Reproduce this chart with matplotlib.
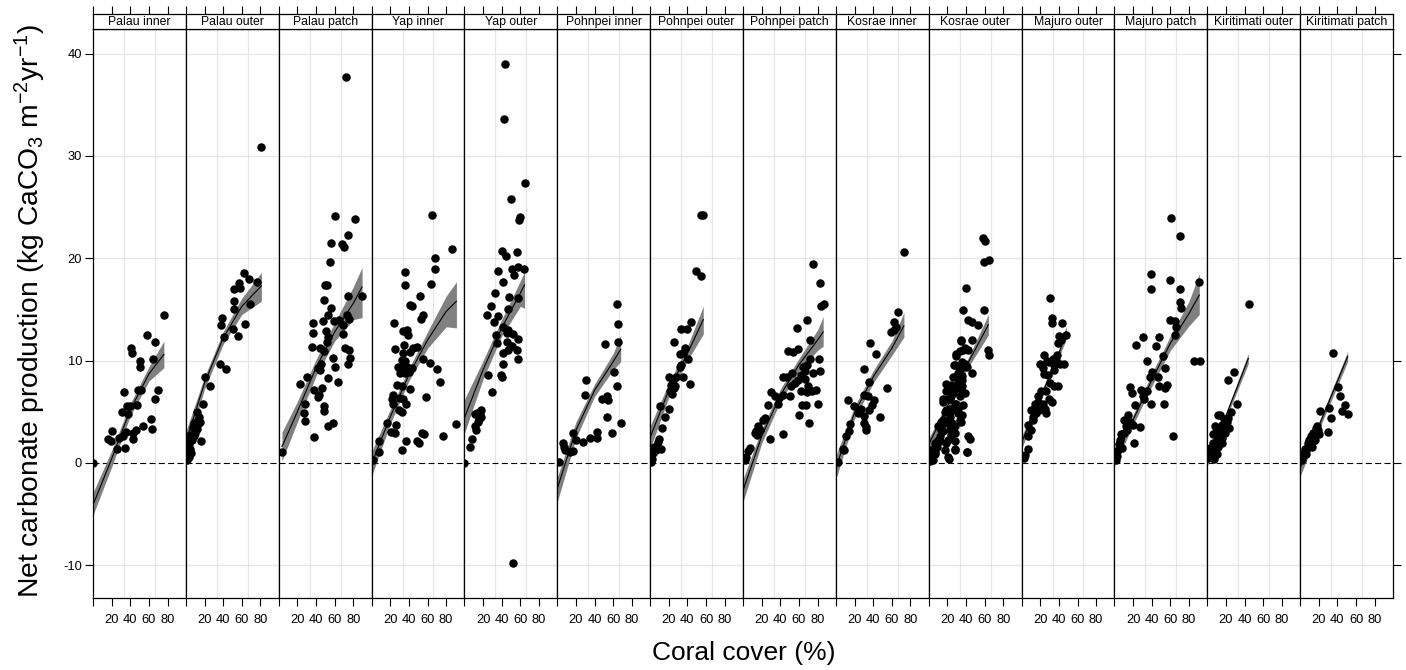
import matplotlib
matplotlib.use("Agg")
import matplotlib.pyplot as plt

plt.rcParams['font.family'] = ['Liberation Sans', 'DejaVu Sans']
plt.rcParams['mathtext.fontset'] = 'custom'
plt.rcParams['mathtext.rm'] = 'Liberation Sans'
plt.rcParams['mathtext.it'] = 'Liberation Sans:italic'
plt.rcParams['axes.unicode_minus'] = False

# panel labels (strip text)
panel_names = ["Palau inner", "Palau outer", "Palau patch", "Yap inner", "Yap outer",
               "Pohnpei inner", "Pohnpei outer", "Pohnpei patch", "Kosrae inner",
               "Kosrae outer", "Majuro outer", "Majuro patch", "Kiritimati outer",
               "Kiritimati patch"]

x_ticks = [0, 20, 40, 60, 80]
x_tick_labels = ["", "20", "40", "60", "80"]
y_ticks = [-10, 0, 10, 20, 30, 40]

# ---- observations: coral cover (%) and net carbonate production ----
palau_inner_x = [0, 75.7, 57.8, 66.8, 40.6, 42.0, 50.6, 50.6, 63.9, 48.1, 51.3, 33.4, 36.3, 39.8,
                 47.0, 30.9, 37.7, 70.0, 66.8, 61.7, 62.8, 53.5, 45.9, 43.4, 42.4, 35.2, 32.0,
                 28.4, 20.8, 16.5, 19.0, 25.5, 34.5]
palau_inner_y = [0, 14.5, 12.5, 11.8, 11.2, 10.7, 10.0, 9.4, 10.2, 7.1, 7.1, 6.9, 5.6, 5.6,
                 5.7, 5.0, 4.8, 7.1, 6.2, 4.3, 3.3, 3.6, 3.2, 2.9, 2.3, 3.0, 2.6,
                 2.4, 3.1, 2.3, 2.1, 1.4, 1.5]

palau_outer_x = [62.8, 57.4, 68.2, 76.1, 52.0, 58.1, 51.7, 51.3, 39.1, 37.3, 50.3, 41.3, 56.4,
                 63.2, 68.9, 36.6, 42.7, 20.8, 25.8, 17.9, 12.2, 13.6, 10.8, 15.1, 7.9, 11.5,
                 16.5, 4.3, 6.1, 2.9, 4.3, 1.4, 2.9, 0.7, 8.6, 10.0, 80.9, 5.0, 3.5, 9.0, 12.5, 1.5]
palau_outer_y = [18.6, 17.6, 18.0, 17.7, 17.0, 17.1, 15.8, 15.0, 14.2, 13.5, 13.1, 12.3, 12.4,
                 13.6, 15.5, 9.7, 9.2, 8.4, 7.5, 5.8, 5.0, 4.5, 4.0, 4.0, 3.5, 3.3,
                 2.1, 2.7, 2.2, 1.8, 1.4, 0.9, 0.6, 0.3, 3.9, 2.9, 30.9, 1.0, 2.3, 2.6, 3.8, 1.5]

palau_patch_x = [56.0, 67.8, 69.6, 55.3, 49.9, 51.7, 48.1, 56.0, 74.3, 89.4, 37.3, 47.0, 52.8,
                 58.9, 64.2, 73.2, 75.0, 37.3, 50.9, 53.4, 51.7, 68.6, 69.0, 35.9, 44.5, 48.1,
                 71.4, 75.0, 76.8, 74.3, 58.5, 45.2, 43.8, 42.0, 60.6, 52.8, 63.9, 22.3, 30.2,
                 37.9, 46.7, 43.4, 42.0, 28.7, 48.8, 48.1, 26.6, 28.7, 52.8, 58.5, 37.9, 3.6,
                 72.1, 60.3, 81.4, 74.6]
palau_patch_y = [21.5, 21.4, 21.1, 19.6, 17.4, 17.4, 15.9, 15.1, 16.3, 16.3, 13.7, 13.9, 14.5,
                 13.9, 14.0, 14.5, 14.1, 12.7, 12.9, 12.3, 11.8, 13.5, 12.6, 11.3, 11.2, 10.9,
                 11.2, 11.0, 10.3, 9.7, 10.3, 9.7, 9.1, 9.3, 9.4, 8.3, 7.9, 7.7, 8.4,
                 7.1, 7.3, 6.6, 6.4, 5.8, 5.6, 5.1, 4.9, 4.1, 3.6, 3.9, 2.5, 1.1,
                 37.7, 24.1, 23.8, 22.3]

yap_inner_x = [86.1, 67.8, 68.2, 35.5, 36.2, 63.5, 52.0, 41.3, 43.4, 52.8, 55.6, 24.4, 34.1,
               37.7, 39.5, 35.0, 24.8, 44.9, 48.5, 34.1, 41.3, 32.3, 35.9, 28.7, 32.3, 37.7,
               43.1, 55.6, 62.8, 30.5, 35.9, 40.6, 70.7, 72.9, 26.9, 32.3, 41.3, 58.5, 23.3,
               21.5, 23.3, 30.5, 34.1, 37.0, 29.8, 32.3, 16.9, 26.2, 25.5, 20.5, 90.8, 76.5,
               37.0, 48.5, 51.3, 53.8, 56.4, 32.3, 8.3, 8.3, 1.8, 64.3]
yap_inner_y = [20.9, 20.0, 18.9, 18.7, 17.4, 17.5, 16.3, 15.4, 15.3, 14.1, 14.5, 13.7, 12.9,
               13.0, 12.5, 11.5, 11.1, 11.2, 11.3, 10.7, 10.8, 10.1, 10.0, 9.4, 9.3, 9.4,
               9.3, 10.2, 9.8, 8.8, 8.8, 8.9, 9.2, 7.9, 7.6, 7.5, 7.2, 6.4, 6.6,
               6.2, 5.8, 6.3, 6.2, 5.8, 5.2, 5.0, 3.9, 3.7, 2.9, 3.0, 3.8, 2.6,
               2.1, 2.1, 1.9, 2.9, 2.8, 1.3, 2.1, 1.1, 0.3, 24.2]

yap_outer_x = [39.8, 44.1, 56.7, 36.3, 50.6, 57.1, 63.9, 53.1, 40.9, 32.7, 48.1, 57.8, 28.4,
               23.7, 47.0, 36.3, 31.6, 40.9, 46.3, 33.7, 45.2, 51.7, 57.8, 35.2, 45.9, 50.6,
               56.0, 41.6, 47.0, 57.8, 41.6, 39.5, 39.8, 25.5, 29.1, 13.6, 16.5, 18.3, 14.7,
               12.9, 11.1, 8.6, 5.7, 0.0, 43.0, 42.3, 64.5, 50.2, 59.2, 58.5, 51.6, 11.5,
               15.5, 17.5]
yap_outer_y = [20.7, 20.2, 20.6, 18.8, 18.9, 19.1, 18.9, 18.4, 17.7, 16.6, 16.2, 16.1, 15.3,
               14.5, 15.0, 14.4, 13.8, 13.3, 13.0, 12.5, 12.7, 12.6, 12.1, 11.7, 11.8, 11.4,
               11.0, 10.7, 11.0, 10.2, 9.7, 8.6, 8.4, 8.6, 6.9, 4.9, 4.9, 4.5, 4.0,
               3.2, 3.6, 2.3, 1.6, 0.0, 39.0, 33.6, 27.4, 25.8, 24.0, 23.7, -9.8, 4.8,
               4.3, 5.2]

pohnpei_inner_x = [63.9, 64.6, 64.6, 51.7, 30.5, 29.8, 60.3, 63.9, 47.7, 53.8, 54.6, 53.8, 68.6,
                   59.2, 17.2, 28.0, 35.2, 42.4, 43.1, 5.7, 8.3, 13.6, 17.2, 1.4, 7.0, 20.0]
pohnpei_inner_y = [15.5, 13.6, 11.8, 11.6, 8.1, 6.6, 8.9, 7.5, 6.2, 6.5, 6.1, 4.5, 3.9,
                   2.9, 2.9, 2.0, 2.4, 3.0, 2.4, 1.9, 1.3, 1.1, 1.2, 0.1, 1.6, 2.2]

pohnpei_outer_x = [49.5, 54.2, 43.4, 33.4, 39.8, 25.5, 37.0, 31.6, 40.6, 35.2, 31.6, 33.4, 19.7,
                   24.4, 28.0, 35.2, 42.4, 22.6, 26.2, 20.8, 23.3, 25.5, 10.4, 19.7, 16.2, 12.6,
                   10.0, 11.8, 6.5, 2.9, 1.8, 1.1, 54.9, 57.1, 8.0, 4.5]
pohnpei_outer_y = [18.8, 18.3, 13.8, 13.1, 13.1, 11.8, 11.2, 10.6, 10.2, 10.7, 9.4, 9.6, 8.4,
                   8.1, 8.4, 8.4, 7.7, 7.6, 7.5, 7.0, 6.7, 7.3, 5.6, 5.3, 4.5, 3.4,
                   2.3, 1.4, 1.3, 1.0, 0.4, 0.1, 24.2, 24.2, 2.0, 1.6]

pohnpei_patch_x = [75.0, 82.2, 84.0, 86.5, 68.2, 58.1, 71.4, 48.1, 53.4, 58.9, 71.4, 81.1, 64.2,
                   68.9, 66.0, 75.0, 82.2, 62.5, 58.9, 55.3, 51.7, 66.8, 69.6, 42.7, 47.4, 52.4,
                   62.5, 68.9, 73.9, 77.9, 63.2, 67.8, 80.4, 59.6, 70.4, 49.9, 30.2, 34.5, 39.1,
                   42.7, 37.3, 26.6, 23.7, 21.2, 15.8, 14.0, 15.1, 12.9, 17.9, 28.7, 42.4, 7.9,
                   5.0, 3.2, 2.2]
pohnpei_patch_y = [19.4, 17.6, 15.3, 15.5, 14.0, 13.2, 12.0, 10.9, 10.8, 11.1, 10.2, 10.2, 9.4,
                   9.6, 9.0, 8.8, 9.0, 8.6, 8.1, 7.8, 7.5, 8.2, 7.5, 8.4, 8.4, 8.8,
                   7.0, 6.9, 7.0, 7.1, 5.7, 5.7, 5.8, 4.7, 3.9, 6.5, 6.9, 6.5, 6.3,
                   6.6, 5.8, 5.7, 4.4, 4.2, 3.6, 3.1, 2.7, 2.9, 3.2, 2.3, 2.8, 1.5,
                   1.2, 0.6, 0.3]

kosrae_inner_x = [72.9, 66.4, 62.8, 64.6, 59.2, 62.1, 37.0, 43.4, 29.8, 35.9, 54.6, 29.8, 34.1,
                  13.3, 19.0, 41.3, 38.4, 35.9, 26.9, 24.0, 29.8, 47.0, 15.4, 14.4, 10.8, 7.2,
                  9.0, 30.5, 32.3, 32.3, 1.8]
kosrae_inner_y = [20.6, 14.7, 13.8, 13.3, 12.8, 13.0, 11.7, 10.6, 9.2, 7.9, 7.3, 6.6, 6.5,
                  6.1, 5.6, 6.1, 5.7, 5.2, 5.3, 4.9, 4.6, 4.5, 3.8, 3.1, 2.6, 1.4,
                  1.3, 3.9, 3.5, 3.2, 0.1]

kosrae_outer_x = [58.5, 60.6, 59.6, 64.6, 39.5, 36.6, 58.9, 42.4, 45.9, 52.4, 34.5, 45.9, 63.2,
                  65.0, 29.8, 33.4, 38.8, 42.4, 27.3, 35.2, 40.6, 45.9, 29.8, 35.2, 31.6, 19.0,
                  24.4, 28.0, 35.2, 38.8, 33.4, 24.4, 20.8, 15.4, 28.0, 19.0, 31.6, 26.2, 35.2,
                  22.6, 34.5, 13.6, 17.2, 10.0, 15.4, 22.6, 28.0, 20.8, 11.8, 6.5, 28.0, 42.4,
                  44.1, 4.7, 2.9, 6.5, 17.2, 28.0, 21.5, 41.6, 2.2, 1.1,
                  34.1, 37.0, 29.8, 28.0, 38.8, 33.4, 26.2, 35.2, 24.4, 19.0, 35.2, 22.6, 29.8,
                  15.4, 37.0, 22.6, 31.6, 15.4, 20.8, 28.0, 33.4, 13.6, 24.4, 10.0, 19.0, 28.0,
                  6.5, 20.8, 40.6, 4.7, 31.0, 36.0, 26.0, 32.5, 17.5, 12.0, 8.5, 25.0]
kosrae_outer_y = [22.0, 21.7, 19.6, 19.8, 17.1, 14.9, 14.9, 14.0, 13.8, 13.5, 11.9, 12.0, 11.0,
                  10.5, 10.6, 10.9, 11.2, 11.0, 9.6, 9.7, 9.4, 8.8, 8.4, 8.5, 7.8, 7.7,
                  7.5, 7.2, 7.5, 6.8, 6.5, 6.5, 6.2, 6.0, 5.8, 5.2, 4.9, 5.2, 4.7,
                  4.5, 4.0, 4.0, 3.9, 3.6, 3.1, 3.2, 2.9, 2.2, 2.1, 1.9, 2.1, 2.6,
                  2.3, 1.4, 0.9, 1.1, 1.3, 1.3, 0.4, 1.1, 0.5, 0.2,
                  12.0, 11.0, 10.4, 9.6, 9.7, 9.1, 8.4, 8.1, 7.6, 7.0, 7.0, 6.2, 5.8,
                  6.2, 5.7, 5.3, 4.9, 4.2, 3.9, 3.6, 4.2, 3.2, 2.7, 2.2, 1.9, 1.4,
                  0.9, 0.6, 1.1, 0.3, 8.8, 9.9, 6.8, 5.5, 5.0, 2.6, 1.6, 3.9]

majuro_outer_x = [30.9, 32.7, 32.3, 43.8, 47.7, 40.6, 42.4, 39.5, 23.7, 33.4, 29.8, 37.0, 41.6,
                  45.9, 34.5, 20.1, 22.6, 35.2, 28.0, 24.4, 30.9, 35.2, 39.5, 20.8, 26.2, 17.2,
                  29.8, 32.3, 22.6, 14.4, 25.1, 10.0, 15.4, 26.2, 11.8, 6.5, 10.0, 6.5, 7.2,
                  3.6, 2.2, 18.0, 12.5, 27.5, 38.0, 19.0]
majuro_outer_y = [16.1, 14.2, 13.7, 13.7, 12.5, 12.4, 12.0, 11.7, 10.5, 10.2, 9.9, 10.1, 9.7,
                  9.7, 9.6, 9.7, 9.3, 9.1, 8.6, 8.7, 7.8, 7.5, 7.5, 7.0, 7.0, 6.5,
                  6.2, 6.0, 5.8, 5.8, 5.3, 5.2, 4.9, 4.9, 4.2, 3.7, 3.2, 2.6, 1.4,
                  0.8, 0.5, 6.0, 4.5, 10.0, 10.5, 5.2]

majuro_patch_x = [39.5, 38.8, 59.6, 70.7, 90.5, 70.4, 71.8, 59.6, 64.6, 66.4, 65.3, 30.5, 23.3,
                  47.7, 44.9, 52.1, 34.8, 53.8, 40.2, 46.7, 37.7, 56.7, 53.8, 47.4, 17.2, 18.7,
                  28.7, 35.2, 30.5, 22.3, 31.6, 39.5, 53.1, 14.4, 10.8, 16.2, 19.7, 13.6, 10.8,
                  26.9, 21.5, 6.5, 5.4, 3.6, 2.9, 1.8, 62.5, 85.1, 91.5, 60.8, 70.5, 8.0,
                  12.0, 7.5]
majuro_patch_y = [18.5, 17.0, 17.9, 17.0, 17.7, 15.7, 15.1, 14.0, 13.9, 13.3, 12.5, 12.3, 11.5,
                  12.3, 11.4, 10.4, 10.0, 9.3, 8.9, 8.4, 8.4, 7.6, 7.3, 7.5, 7.4, 6.8,
                  7.1, 7.0, 6.5, 5.7, 6.2, 5.8, 5.8, 4.7, 4.2, 4.0, 3.7, 3.2, 2.9,
                  3.5, 1.9, 2.2, 1.8, 1.3, 0.7, 0.3, 2.6, 10.0, 10.0, 23.9, 22.2, 1.5,
                  3.6, 2.8]

kiritimati_outer_x = [44.5, 29.1, 22.6, 31.6, 13.6, 11.8, 25.5, 8.3, 15.4, 20.8, 23.3, 17.2, 13.6,
                      10.0, 6.5, 15.4, 11.8, 4.7, 8.3, 2.9, 1.1, 19.0, 4.7, 10.0, 12.0, 18.0,
                      6.0, 9.0, 16.0, 3.0, 7.5, 22.0]
kiritimati_outer_y = [15.5, 8.9, 8.1, 5.8, 4.7, 4.7, 5.0, 3.6, 3.7, 4.0, 3.4, 3.2, 2.6,
                      2.2, 1.9, 1.9, 1.6, 1.3, 1.1, 0.8, 0.5, 2.9, 0.6, 0.9, 3.2, 4.3,
                      2.8, 3.0, 2.4, 1.5, 0.4, 4.4]

kiritimati_patch_x = [35.5, 40.2, 43.1, 48.1, 50.9, 44.5, 21.2, 30.9, 33.0, 30.2, 17.6, 14.0, 11.5,
                      15.8, 8.6, 5.0, 12.2, 3.2, 1.4, 6.8, 19.4, 10.0, 16.5, 2.5, 7.5, 13.0,
                      4.0, 20.0]
kiritimati_patch_y = [10.7, 7.4, 6.5, 5.7, 4.8, 5.1, 5.1, 5.4, 4.4, 3.0, 3.6, 2.9, 2.6,
                      2.2, 1.9, 1.4, 1.6, 0.9, 0.5, 0.9, 3.2, 2.2, 3.4, 0.3, 1.5, 2.0,
                      1.0, 2.8]

# ---- fitted curves: (cover, fit, lower, upper) ----
palau_inner_fit = [(0, -4.1, -5.1, -2.9), (20, 0.4, -0.4, 1.2), (40, 5.2, 4.6, 5.8),
                   (60, 8.7, 8.0, 9.4), (76, 10.6, 9.3, 11.9)]
palau_outer_fit = [(0.5, 2.2, 1.3, 3.2), (20, 7.8, 7.2, 8.4), (40, 12.2, 11.6, 12.8),
                   (60, 15.3, 14.5, 16.1), (81, 17.3, 15.8, 18.6)]
palau_patch_fit = [(3.5, 1.6, 0.2, 3.0), (20, 5.0, 4.0, 6.0), (40, 9.3, 8.5, 10.1),
                   (60, 12.8, 11.9, 13.7), (80, 15.6, 14.0, 17.2), (89.4, 17.2, 14.2, 19.1)]
yap_inner_fit = [(0, -0.1, -1.3, 1.1), (20, 4.5, 3.8, 5.2), (40, 8.6, 8.0, 9.2),
                 (60, 12.0, 11.2, 12.8), (80, 14.8, 13.3, 16.3), (91, 15.8, 13.2, 17.7)]
yap_outer_fit = [(0, 4.4, 2.9, 6.2), (20, 9.1, 8.2, 10.0), (40, 13.2, 12.4, 14.0),
                 (60, 16.6, 15.3, 17.8), (64.5, 17.4, 15.1, 18.7)]
pohnpei_inner_fit = [(0, -2.5, -3.8, -1.4), (20, 3.2, 2.4, 4.0), (40, 7.1, 6.5, 7.7),
                     (60, 9.9, 9.1, 10.7), (68, 11.1, 9.9, 12.5)]
pohnpei_outer_fit = [(0, 2.5, 1.4, 3.6), (20, 7.1, 6.4, 7.8), (40, 10.7, 10.0, 11.4),
                     (57, 14.0, 12.6, 15.3)]
pohnpei_patch_fit = [(0, -2.7, -3.8, -1.6), (20, 2.6, 1.9, 3.3), (40, 6.6, 6.0, 7.2),
                     (60, 9.6, 9.0, 10.2), (80, 12.0, 11.0, 13.0), (86, 12.8, 11.4, 14.3)]
kosrae_inner_fit = [(0, -0.5, -1.6, 0.7), (20, 4.9, 4.3, 5.5), (40, 8.4, 7.8, 9.0),
                    (60, 11.2, 10.5, 11.9), (73, 13.4, 12.3, 14.7)]
kosrae_outer_fit = [(0, 1.8, 1.2, 2.4), (20, 5.5, 5.1, 5.9), (40, 9.4, 9.0, 9.8),
                    (64, 13.5, 12.5, 14.5)]
majuro_outer_fit = [(0, 2.0, 1.4, 2.6), (20, 6.3, 5.9, 6.7), (40, 10.7, 10.3, 11.1),
                    (48, 12.8, 12.1, 13.4)]
majuro_patch_fit = [(0, 0.3, -0.3, 0.9), (20, 4.2, 3.7, 4.7), (40, 8.1, 7.5, 8.7),
                    (60, 11.7, 11.0, 12.4), (80, 14.6, 13.4, 15.8), (91, 16.4, 14.5, 18.5)]
kiritimati_outer_fit = [(0, 0.1, -0.3, 0.5), (20, 4.6, 4.3, 4.9), (44, 10.2, 9.7, 10.7)]
kiritimati_patch_fit = [(0, -0.5, -1.3, 0.3), (20, 3.6, 3.2, 4.0), (51, 10.4, 9.9, 10.9)]

panels = [
    (palau_inner_x, palau_inner_y, palau_inner_fit),
    (palau_outer_x, palau_outer_y, palau_outer_fit),
    (palau_patch_x, palau_patch_y, palau_patch_fit),
    (yap_inner_x, yap_inner_y, yap_inner_fit),
    (yap_outer_x, yap_outer_y, yap_outer_fit),
    (pohnpei_inner_x, pohnpei_inner_y, pohnpei_inner_fit),
    (pohnpei_outer_x, pohnpei_outer_y, pohnpei_outer_fit),
    (pohnpei_patch_x, pohnpei_patch_y, pohnpei_patch_fit),
    (kosrae_inner_x, kosrae_inner_y, kosrae_inner_fit),
    (kosrae_outer_x, kosrae_outer_y, kosrae_outer_fit),
    (majuro_outer_x, majuro_outer_y, majuro_outer_fit),
    (majuro_patch_x, majuro_patch_y, majuro_patch_fit),
    (kiritimati_outer_x, kiritimati_outer_y, kiritimati_outer_fit),
    (kiritimati_patch_x, kiritimati_patch_y, kiritimati_patch_fit),
]

# layout in figure fractions (figure is 1406 x 670 px)
fig = plt.figure(figsize=(14.06, 6.70), dpi=100)
left, right = 93 / 1406, 1393 / 1406
bottom, top, strip_top = 72 / 670, 641 / 670, 656 / 670
width = (right - left) / len(panels)

xlim = (0, 99.6)
ylim = (-13.2, 42.4)
v_grid = [33.2, 66.4]
grid_col = '#e6e6e6'
tick_len = 5.8
spine_w = 0.9

for i, (name, (xs, ys, fit)) in enumerate(zip(panel_names, panels)):
    ax = fig.add_axes([left + i * width, bottom, width, top - bottom])
    ax.set_xlim(*xlim)
    ax.set_ylim(*ylim)

    # light reference grid
    for yv in y_ticks:
        if yv != 0:
            ax.axhline(yv, color=grid_col, lw=0.9, zorder=0)
    for xv in v_grid:
        ax.axvline(xv, color=grid_col, lw=0.9, zorder=0)
    ax.axhline(0, color='black', lw=0.8, ls=(0, (5.4, 3)), zorder=1)

    fx = [p[0] for p in fit]
    fy = [p[1] for p in fit]
    flo = [p[2] for p in fit]
    fhi = [p[3] for p in fit]
    ax.fill_between(fx, flo, fhi, color='#808080', lw=0, zorder=2)
    ax.plot(fx, fy, color='black', lw=0.8, zorder=3)
    ax.plot(xs, ys, 'o', color='black', ms=6.1, mew=0, zorder=4)

    ax.set_xticks(x_ticks)
    ax.set_xticklabels(x_tick_labels)
    ax.tick_params(axis='x', direction='out', length=tick_len, width=0.8,
                   labelsize=9.3, pad=6)
    ax.set_yticks(y_ticks)
    if i == 0:
        ax.tick_params(axis='y', direction='out', length=tick_len, width=0.8,
                       labelsize=9.3, pad=2)
    elif i == len(panels) - 1:
        ax.tick_params(axis='y', left=False, labelleft=False, right=True,
                       direction='out', length=tick_len, width=0.8)
    else:
        ax.tick_params(axis='y', left=False, labelleft=False)
    for sp in ax.spines.values():
        sp.set_linewidth(spine_w)

    # strip with panel name
    st = fig.add_axes([left + i * width, top, width, strip_top - top])
    st.set_xlim(*xlim)
    st.set_xticks(x_ticks)
    st.xaxis.tick_top()
    st.tick_params(axis='x', direction='out', length=tick_len, width=0.8,
                   labeltop=False, labelbottom=False)
    st.set_yticks([])
    for sp in st.spines.values():
        sp.set_linewidth(spine_w)
    st.text(0.5, 0.45, name, transform=st.transAxes, ha='center', va='center',
            fontsize=8.8)

fig.text(743.5 / 1406, 1 - 653 / 670, 'Coral cover (%)', ha='center', va='center',
         fontsize=19)
fig.text(30 / 1406, 1 - 311 / 670,
         'Net carbonate production (kg CaCO$_3$ m$^{-2}$yr$^{-1}$)',
         ha='center', va='center', rotation=90, fontsize=20.3)

fig.savefig('out.png', dpi=100)
